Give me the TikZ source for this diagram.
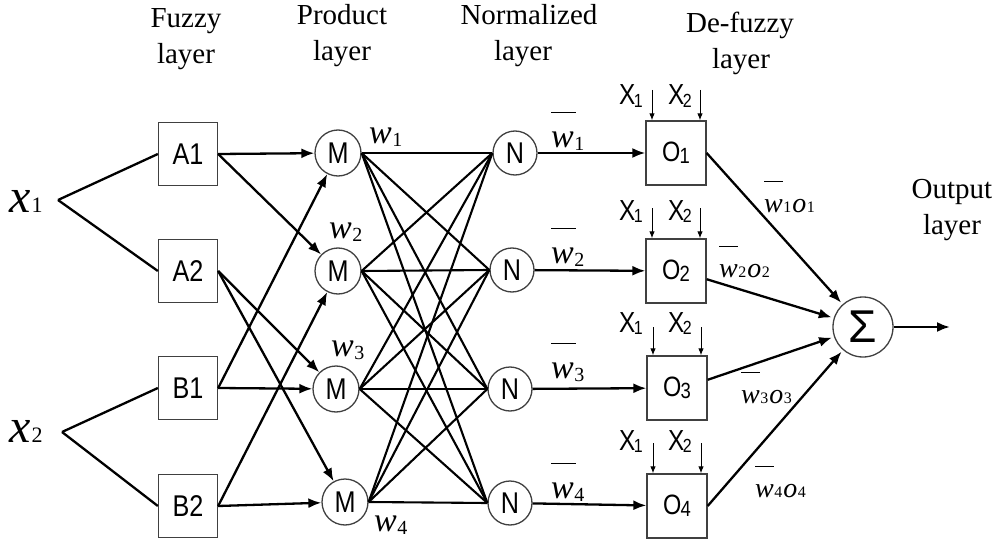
\documentclass[tikz,border=0pt]{standalone}
\usepackage{fontspec}
\setmainfont{Liberation Serif}
\newfontfamily\arialf[FakeStretch=0.84]{Liberation Sans}
\newfontfamily\sigmaf{Liberation Sans}
\usetikzlibrary{arrows.meta}
\newcommand\fsz[1]{\fontsize{#1}{#1}\selectfont}
\newcommand\wsub[1]{{\itshape w}\kern0.5pt\raisebox{-3pt}{\fsz{20}#1}}
\newcommand\wbar[1]{\rlap{\raisebox{34pt}{\rule{25pt}{1.4pt}}}\wsub{#1}}
\newcommand\wbo[1]{\rlap{\raisebox{30pt}{\rule{19pt}{1.3pt}}}{\itshape w}\kern0.5pt{\fsz{16}#1}\kern1pt{\itshape o}\kern0.5pt{\fsz{16}#1}}
\newcommand\osub[1]{O\kern-1pt\raisebox{-2pt}{\fsz{22}#1}}
\newcommand\xsub[1]{X\kern-1.5pt\raisebox{-2pt}{\fsz{19}#1}}
\tikzset{
  box/.style={draw=black!75, line width=1.3pt, minimum width=59pt, minimum height=63pt, inner sep=0pt, font=\arialf\fsz{30}},
  obox/.style={box, minimum width=60pt, minimum height=64pt, font=\arialf\fsz{28}},
  circ/.style={circle, draw=black!75, line width=1.3pt, minimum size=46pt, inner sep=0pt, font=\arialf\fsz{30}},
  ncirc/.style={circ, minimum size=44pt},
  scirc/.style={circ, minimum size=60pt, font=\sigmaf\fsz{46}},
  con/.style={line width=2.3pt},
  mn/.style={line width=2.1pt},
  arr/.style={con, -{Latex[length=13pt,width=10pt]}},
  hdr/.style={font=\fsz{29}, anchor=base, inner sep=0pt},
  lbl/.style={anchor=base west, inner sep=0pt, font=\fsz{34}},
  slbl/.style={anchor=base west, inner sep=0pt, font=\fsz{28}},
  xlbl/.style={anchor=base west, inner sep=0pt, font=\arialf\fsz{29}},
  xin/.style={line width=1pt, -{Latex[length=7pt,width=5.5pt]}},
}
\begin{document}
\begin{tikzpicture}[x=1pt, y=-1pt]
\useasboundingbox (0,0) rectangle (997,543);
% headers
\node[hdr] (h1a) at (186,28) {Fuzzy};
\node[hdr] (h1b) at (186,64) {layer};
\node[hdr] (h2a) at (342,25) {Product};
\node[hdr] (h2b) at (342,61) {layer};
\node[hdr] (h3a) at (529,25) {Normalized};
\node[hdr] (h3b) at (523,61) {layer};
\node[hdr] (h4a) at (740,33) {De-fuzzy};
\node[hdr] (h4b) at (741,69) {layer};
\node[hdr] (h5a) at (952,198) {Output};
\node[hdr] (h5b) at (952,234) {layer};
% inputs
\node[anchor=base west, inner sep=0pt] (x1) at (9,212) {{\fsz{48}\itshape x}\kern1pt{\fsz{22}1}};
\node[anchor=base west, inner sep=0pt] (x2) at (9,442) {{\fsz{48}\itshape x}\kern1pt{\fsz{22}2}};
\coordinate (v1) at (58,200);
\coordinate (v2) at (62,432);
% fuzzy layer
\node[box] (A1) at (188,154) {A1};
\node[box] (A2) at (188,271) {A2};
\node[box] (B1) at (188,388) {B1};
\node[box] (B2) at (188,506) {B2};
% product layer
\node[circ] (M1) at (338,153) {M};
\node[circ] (M2) at (338,271) {M};
\node[circ] (M3) at (336,389) {M};
\node[circ] (M4) at (345,502) {M};
% normalized layer
\node[ncirc] (N1) at (515,153) {N};
\node[ncirc] (N2) at (512,270) {N};
\node[ncirc] (N3) at (510,389) {N};
\node[ncirc] (N4) at (510,503) {N};
% defuzzy layer
\node[obox] (O1) at (676,153) {\osub{1}};
\node[obox] (O2) at (676,271) {\osub{2}};
\node[obox] (O3) at (677,388) {\osub{3}};
\node[obox] (O4) at (677,506) {\osub{4}};
% output
\node[scirc] (S) at (863,327) {Σ};
\coordinate (out) at (950,327);
% labels
\node[lbl] (lw1) at (369,143) {\wsub{1}};
\node[lbl] (lw2) at (329,238) {\wsub{2}};
\node[lbl] (lw3) at (331,356) {\wsub{3}};
\node[lbl] (lw4) at (374,531) {\wsub{4}};
\node[lbl] (lb1) at (551,147) {\wbar{1}};
\node[lbl] (lb2) at (551,263) {\wbar{2}};
\node[lbl] (lb3) at (551,378) {\wbar{3}};
\node[lbl] (lb4) at (551,498) {\wbar{4}};
\node[slbl] (lo1) at (764,212) {\wbo{1}};
\node[slbl] (lo2) at (719,277) {\wbo{2}};
\node[slbl] (lo3) at (741,403) {\wbo{3}};
\node[slbl] (lo4) at (755,497) {\wbo{4}};
% connectors: inputs
\draw[con] (v1) -- (A1.west);
\draw[con] (v1) -- (A2.west);
\draw[con] (v2) -- (B1.west);
\draw[con] (v2) -- (B2.west);
% fuzzy -> product
\draw[arr] (A1.east) -- (M1);
\draw[arr] (A1.east) -- (M2);
\draw[arr] (A2.east) -- (M3);
\draw[arr] (A2.east) -- (M4);
\draw[arr] (B1.east) -- (M1);
\draw[arr] (B1.east) -- (M3);
\draw[arr] (B2.east) -- (M2);
\draw[arr] (B2.east) -- (M4);
% product -> normalized
\foreach \i in {1,2,3,4}{
  \foreach \j in {1,2,3,4}{
    \draw[mn] (M\i.east) -- (N\j.west);
  }
}
% normalized -> defuzzy
\foreach \i in {1,2,3,4}{
  \draw[arr] (N\i) -- (O\i);
}
% defuzzy -> sum
\draw[arr, shorten >=2pt] (O1.east) -- (S);
\draw[arr, shorten >=2pt] (O2.-15) -- (S);
\draw[arr, shorten >=2pt] (O3.15) -- (S);
\draw[arr, shorten >=2pt] (O4.east) -- (S);
\draw[arr] (S) -- (out);
% X inputs to defuzzy nodes
\coordinate (xa1) at (652,90);  \coordinate (xb1) at (700,90);
\coordinate (xa2) at (652,208); \coordinate (xb2) at (700,208);
\coordinate (xa3) at (653,327); \coordinate (xb3) at (701,327);
\coordinate (xa4) at (653,443); \coordinate (xb4) at (701,443);
\foreach \i in {1,2,3,4}{
  \draw[xin] (xa\i) -- (xa\i |- O\i.north);
  \draw[xin] (xb\i) -- (xb\i |- O\i.north);
}
\node[xlbl] (X1a) at (619,105) {\xsub{1}};
\node[xlbl] (X2a) at (668,105) {\xsub{2}};
\node[xlbl] (X1b) at (619,220) {\xsub{1}};
\node[xlbl] (X2b) at (668,220) {\xsub{2}};
\node[xlbl] (X1c) at (619,332) {\xsub{1}};
\node[xlbl] (X2c) at (668,332) {\xsub{2}};
\node[xlbl] (X1d) at (619,450) {\xsub{1}};
\node[xlbl] (X2d) at (668,450) {\xsub{2}};
\end{tikzpicture}
\end{document}
